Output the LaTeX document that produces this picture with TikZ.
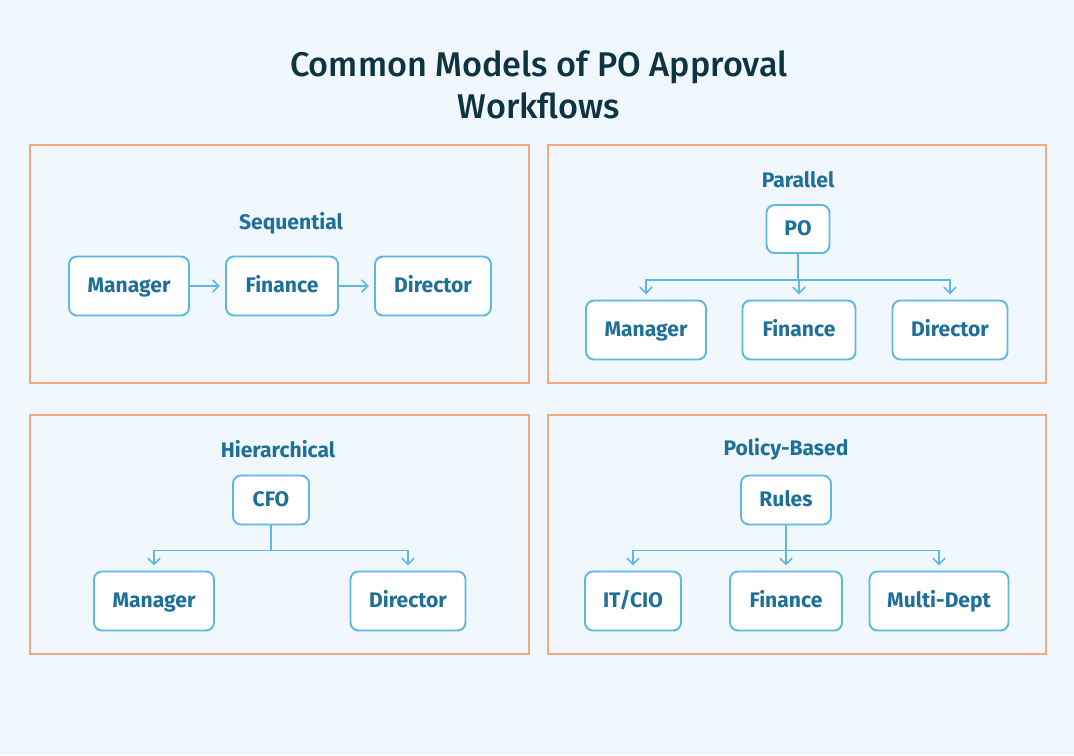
\documentclass[tikz,border=0pt]{standalone}
\usepackage{fontspec}
\setmainfont{Fira Sans}
\newfontfamily\titlefont{Fira Sans Medium}
\usepackage{tikz}
\usetikzlibrary{positioning, arrows.meta, calc}

\definecolor{pagebg}{HTML}{F0F8FE}
\definecolor{panelline}{HTML}{F2A97E}
\definecolor{boxline}{HTML}{5DB8E3}
\definecolor{boxtext}{HTML}{1F7099}
\definecolor{titletext}{HTML}{0E3442}

\begin{document}
\begin{tikzpicture}[
    x=0.02cm, y=-0.02cm,
    % Style definitions
    panel/.style={
        draw=panelline, line width=0.6pt
    },
    role/.style={
        rectangle, rounded corners=4.5pt, draw=boxline, fill=white,
        line width=1.1pt, minimum height=1.18cm, inner sep=0pt,
        text height=1.3ex, text depth=0pt,
        font=\bfseries\fontsize{12}{14}\selectfont, text=boxtext
    },
    modeltitle/.style={
        font=\bfseries\fontsize{12}{14}\selectfont, text=boxtext
    },
    flow/.style={
        -{Straight Barb[length=3.5pt, width=7pt]}, boxline, line width=0.85pt
    },
    branch/.style={
        flow, rounded corners=0pt, shorten >=3pt
    },
]

% Page background (fixes the bounding box)
\fill[pagebg] (0,0) rectangle (1074,755);

% === Title ===
\node[font=\titlefont\fontsize{19.5}{24}\selectfont, text=titletext, align=center] (title)
    at (539,85) {Common Models of PO Approval\\Workflows};

% === Panels ===
\draw[panel] (30,145) rectangle (529,383);
\draw[panel] (548,145) rectangle (1046,383);
\draw[panel] (30,415) rectangle (529,654);
\draw[panel] (548,415) rectangle (1046,654);

% === Sequential ===
\node[modeltitle] (seqtitle) at (291,223) {Sequential};
\node[role, minimum width=2.4cm]  (seqmgr) at (129,286) {Manager};
\node[role, minimum width=2.24cm] (seqfin) at (282,286) {Finance};
\node[role, minimum width=2.32cm] (seqdir) at (433,286) {Director};
\draw[flow, shorten >=3pt] (seqmgr) -- (seqfin);
\draw[flow, shorten >=3pt] (seqfin) -- (seqdir);

% === Parallel ===
\node[modeltitle] (partitle) at (798,180) {Parallel};
\node[role, minimum width=1.26cm, minimum height=0.96cm] (parpo) at (798,229) {PO};
\node[role, minimum width=2.4cm]  (parmgr) at (646,330) {Manager};
\node[role, minimum width=2.26cm] (parfin) at (799,330) {Finance};
\node[role, minimum width=2.3cm]  (pardir) at (950,330) {Director};
\foreach \c in {parmgr, parfin, pardir}
    \draw[branch] (parpo.south) -- ++(0,26) -| (\c.north);

% === Hierarchical ===
\node[modeltitle] (hietitle) at (278,449) {Hierarchical};
\node[role, minimum width=1.52cm, minimum height=0.98cm] (hiecfo) at (271,500) {CFO};
\node[role, minimum width=2.4cm]  (hiemgr) at (154,601) {Manager};
\node[role, minimum width=2.3cm]  (hiedir) at (408,601) {Director};
\foreach \c in {hiemgr, hiedir}
    \draw[branch] (hiecfo.south) -- ++(0,25) -| (\c.north);

% === Policy-Based ===
\node[modeltitle] (poltitle) at (786,449) {Policy-Based};
\node[role, minimum width=1.8cm, minimum height=0.98cm] (polrules) at (786,500) {Rules};
\node[role, minimum width=1.92cm] (polit)  at (633,601) {IT/CIO};
\node[role, minimum width=2.24cm] (polfin) at (786,601) {Finance};
\node[role, minimum width=2.78cm] (polmd)  at (939,601) {Multi-Dept};
\foreach \c in {polit, polfin, polmd}
    \draw[branch] (polrules.south) -- ++(0,25) -| (\c.north);

\end{tikzpicture}
\end{document}
